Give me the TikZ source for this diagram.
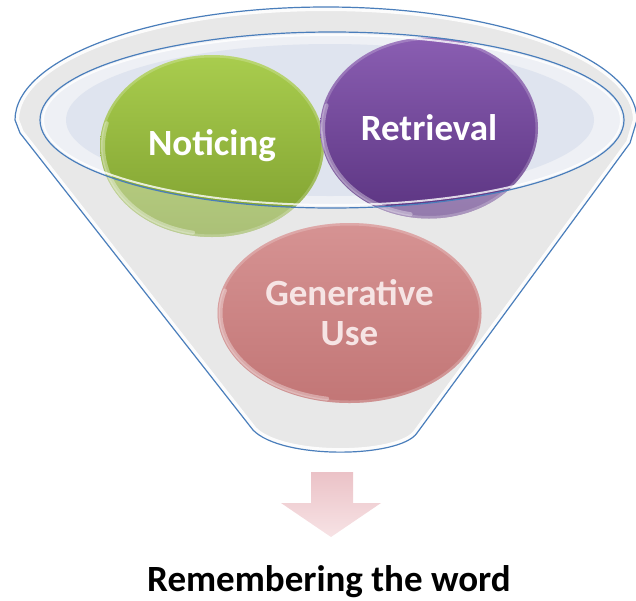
\documentclass[tikz,border=0pt]{standalone}
\usepackage{fontspec}
\setmainfont{Carlito}
\usetikzlibrary{shapes.geometric}
\definecolor{rimblue}{HTML}{4A7EBB}
\definecolor{funnelgray}{HTML}{E8E8E8}
\definecolor{mouthfill}{HTML}{EEF0F5}
\definecolor{mouthblue}{HTML}{DFE4EF}
\definecolor{greentop}{HTML}{A9CD4E}
\definecolor{greenmid}{HTML}{93BA3C}
\definecolor{greenbot}{HTML}{7E9F2F}
\definecolor{violettop}{HTML}{8A5EB2}
\definecolor{violetmid}{HTML}{6B4094}
\definecolor{violetbot}{HTML}{5B3481}
\definecolor{rosetop}{HTML}{D69393}
\definecolor{rosemid}{HTML}{CA7E7E}
\definecolor{rosebot}{HTML}{C27676}
\definecolor{rosetext}{HTML}{F6E4E4}
\definecolor{arrowpink}{HTML}{EBC2C7}
\definecolor{arrowpale}{HTML}{F7E3E5}
\tikzstyle{bola} = [ellipse, inner sep=0pt, align=center, text=white, font=\bfseries\fontsize{37}{40}\selectfont]
\tikzstyle{rimline} = [draw=rimblue, line width=1.2pt]
\tikzstyle{glow} = [draw=white, line width=2pt, opacity=0.8]
\tikzstyle{shine} = [draw=white, line width=4pt, opacity=0.35, line cap=round]
\def\funnelpath{(15,120) arc[start angle=180, end angle=360, x radius=311, y radius=113] -- (630,143) -- (417,433) .. controls (400,458) and (282,460) .. (253,430) -- (20,133) -- cycle}

\begin{document}
\begin{tikzpicture}[x=1pt, y=-1pt]
	\useasboundingbox (0,0) rectangle (636,600);
	% funnel body
	\path[fill=funnelgray] \funnelpath;
	\begin{scope}
		\clip \funnelpath;
		\draw[white, line width=8pt, opacity=0.9] \funnelpath;
	\end{scope}
	\path[rimline] \funnelpath;
	% mouth of the funnel
	\path[fill=mouthfill] (332,120) ellipse[x radius=292, y radius=88];
	\path[fill=mouthblue] (330,120) ellipse[x radius=264, y radius=76];
	% the three balls
	\node[bola, minimum width=224pt, minimum height=182pt, top color=greentop, middle color=greenmid, bottom color=greenbot] (noticing) at (212,146) {Noticing};
	\node[bola, minimum width=218pt, minimum height=181pt, top color=violettop, middle color=violetmid, bottom color=violetbot] (retrieval) at (429,128) {Retrieval};
	\foreach \b/\rx/\ry in {noticing/112/91, retrieval/109/90.5}{
		\begin{scope}
			\clip (\b.center) ellipse[x radius=\rx, y radius=\ry];
			\fill[white, opacity=0.35, even odd rule] (0,0) rectangle (636,600) (332,120) ellipse[x radius=292, y radius=88];
			\draw[white, line width=3pt, opacity=0.2] (\b.center) ellipse[x radius=\rx-1, y radius=\ry-1];
			\path[shine] (\b.center) ++(100:\rx-3 and \ry-3) arc[start angle=100, end angle=195, x radius=\rx-3, y radius=\ry-3];
		\end{scope}
	}
	\path[glow] (332,120) ellipse[x radius=289, y radius=85];
	\path[rimline] (332,120) ellipse[x radius=292, y radius=88];
	\node[bola, minimum width=264pt, minimum height=180pt, text=rosetext, top color=rosetop, middle color=rosemid, bottom color=rosebot] (generative) at (349.5,313) {Generative\\Use};
	\begin{scope}
		\clip (generative.center) ellipse[x radius=132, y radius=90];
		\draw[white, line width=3pt, opacity=0.2] (generative.center) ellipse[x radius=131, y radius=89];
		\path[shine] (generative.center) ++(100:129 and 87) arc[start angle=100, end angle=195, x radius=129, y radius=87];
	\end{scope}
	% arrow and result
	\shade[top color=arrowpink, bottom color=arrowpale] (311,472) -- (353,472) -- (353,503) -- (381,503) -- (331,537) -- (281,503) -- (311,503) -- cycle;
	\node[anchor=base, font=\bfseries\fontsize{37}{40}\selectfont] (result) at (329,591) {Remembering the word};
\end{tikzpicture}
\end{document}
